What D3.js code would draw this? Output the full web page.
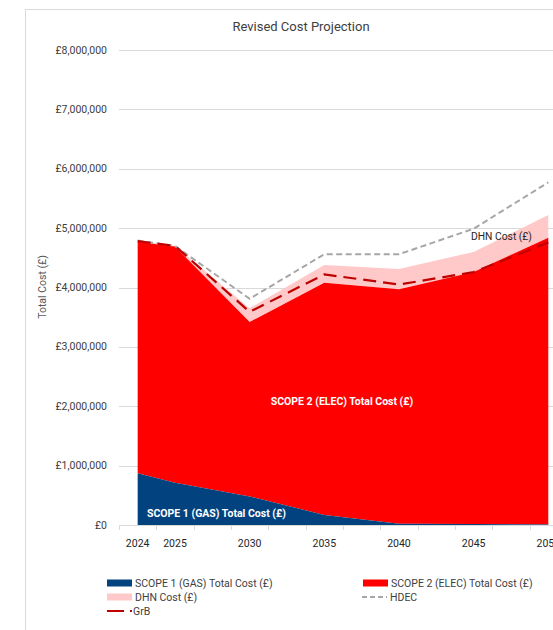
<!DOCTYPE html>
<html>
<head>
<meta charset="utf-8">
<script src="https://cdn.jsdelivr.net/npm/d3@7"></script>
<style>
  html, body { margin: 0; padding: 0; background: #ffffff; }
  svg { display: block; font-family: Roboto, "Open Sans", sans-serif; }
</style>
</head>
<body>
<svg id="chart" width="553" height="630"></svg>
<script>
// Projection years and cost series (£)
const years   = [2024, 2025, 2030, 2035, 2040, 2045, 2050];
const scope1  = [870000, 710000, 480000, 170000, 20000, 15000, 10000];
const scope2  = [3900000, 3980000, 2940000, 3910000, 3950000, 4245000, 4830000];
const dhn     = [10000, 10000, 230000, 300000, 340000, 340000, 380000];
const hdec    = [4790000, 4700000, 3810000, 4560000, 4560000, 4990000, 5770000];
const grb     = [4780000, 4700000, 3590000, 4220000, 4050000, 4260000, 4760000];

// Category slots on the horizontal axis (labelled ones only shown)
const slotLabels = ["2024", "2025", "", "2030", "", "2035", "", "2040", "", "2045", "", "2050"];
const yTicks = [0, 1000000, 2000000, 3000000, 4000000, 5000000, 6000000, 7000000, 8000000];

const svg = d3.select("#chart");

const plot = { left: 119, top: 50, bottom: 525, slot: 37.33 };

// chart frame
svg.append("rect")
  .attr("x", 25.5).attr("y", 9.5)
  .attr("width", 600).attr("height", 700)
  .attr("fill", "#ffffff").attr("stroke", "#d9d9d9");

const band = d3.scaleBand()
  .domain(d3.range(slotLabels.length))
  .range([plot.left, plot.left + plot.slot * slotLabels.length]);
const mid = i => band(i) + band.bandwidth() / 2;

// year -> position: 2024 and 2025 sit in consecutive slots, then one slot per 2.5 years
const x = d3.scaleLinear()
  .domain([2024, 2025, 2050])
  .range([mid(0), mid(1), mid(11)]);

const y = d3.scaleLinear().domain([0, 8000000]).range([plot.bottom, plot.top]);

// gridlines
svg.append("g")
  .selectAll("line")
  .data(yTicks.slice(1))
  .join("line")
  .attr("x1", plot.left).attr("x2", 553)
  .attr("y1", d => Math.round(y(d)) + 0.5).attr("y2", d => Math.round(y(d)) + 0.5)
  .attr("stroke", "#d9d9d9").attr("stroke-width", 1);

// y tick labels
svg.append("g")
  .selectAll("text")
  .data(yTicks)
  .join("text")
  .attr("x", 107)
  .attr("y", d => y(d) + 3.5)
  .attr("text-anchor", "end")
  .attr("font-size", 10.5)
  .attr("fill", "#404040")
  .text(d => "£" + d3.format(",")(d));

// y axis title
svg.append("text")
  .attr("transform", `translate(46,287) rotate(-90)`)
  .attr("text-anchor", "middle")
  .attr("font-size", 10.5)
  .attr("fill", "#595959")
  .text("Total Cost (£)");

// stacked areas
const rows = years.map((yr, i) => ({ year: yr, scope1: scope1[i], scope2: scope2[i], dhn: dhn[i] }));
const stack = d3.stack().keys(["scope1", "scope2", "dhn"]);
const layers = stack(rows);
const fills = { scope1: "#02437f", scope2: "#ff0000", dhn: "#ffc9c9" };

const area = d3.area()
  .x(d => x(d.data.year))
  .y0(d => y(d[0]))
  .y1(d => y(d[1]));

svg.append("g")
  .selectAll("path")
  .data(layers.slice().reverse())
  .join("path")
  .attr("d", area)
  .attr("fill", d => fills[d.key]);

// x axis line and tick marks
svg.append("line")
  .attr("x1", plot.left).attr("x2", 553)
  .attr("y1", plot.bottom + 0.5).attr("y2", plot.bottom + 0.5)
  .attr("stroke", "#d9d9d9");
svg.append("g")
  .selectAll("line")
  .data(d3.range(slotLabels.length + 1))
  .join("line")
  .attr("x1", i => Math.round(plot.left + i * plot.slot) + 0.5)
  .attr("x2", i => Math.round(plot.left + i * plot.slot) + 0.5)
  .attr("y1", plot.bottom).attr("y2", plot.bottom + 5)
  .attr("stroke", "#d9d9d9");

svg.append("g")
  .selectAll("text")
  .data(slotLabels.map((l, i) => ({ l, i })).filter(d => d.l))
  .join("text")
  .attr("x", d => mid(d.i))
  .attr("y", 547)
  .attr("text-anchor", "middle")
  .attr("font-size", 10.5)
  .attr("fill", "#262626")
  .text(d => d.l);

// comparison lines
const line = d3.line().x((d, i) => x(years[i])).y(d => y(d));

svg.append("path")
  .attr("d", line(hdec))
  .attr("fill", "none")
  .attr("stroke", "#a6a6a6")
  .attr("stroke-width", 2)
  .attr("stroke-dasharray", "6,3.5");

svg.append("path")
  .attr("d", line(grb))
  .attr("fill", "none")
  .attr("stroke", "#c00000")
  .attr("stroke-width", 2.2)
  .attr("stroke-dasharray", "13,7");

// area labels
svg.append("text")
  .attr("x", 147).attr("y", 517)
  .attr("font-size", 10.5).attr("font-weight", "bold")
  .attr("fill", "#ffffff")
  .text("SCOPE 1 (GAS) Total Cost (£)");

svg.append("text")
  .attr("x", 342).attr("y", 405)
  .attr("text-anchor", "middle")
  .attr("font-size", 10.5).attr("font-weight", "bold")
  .attr("fill", "#ffffff")
  .text("SCOPE 2 (ELEC) Total Cost (£)");

svg.append("text")
  .attr("x", 471).attr("y", 240)
  .attr("font-size", 10.3)
  .attr("fill", "#262626")
  .text("DHN Cost (£)");

// title
svg.append("text")
  .attr("x", 301).attr("y", 31)
  .attr("text-anchor", "middle")
  .attr("font-size", 13)
  .attr("fill", "#404040")
  .text("Revised Cost Projection");

// legend
const legend = [
  { name: "SCOPE 1 (GAS) Total Cost (£)", type: "box", color: "#02437f", x: 107, y: 583 },
  { name: "SCOPE 2 (ELEC) Total Cost (£)", type: "box", color: "#ff0000", x: 363, y: 583 },
  { name: "DHN Cost (£)", type: "box", color: "#ffc9c9", x: 107, y: 597 },
  { name: "HDEC", type: "grey", color: "#a6a6a6", x: 362, y: 597 },
  { name: "GrB", type: "red", color: "#c00000", x: 107, y: 611 }
];

const lg = svg.append("g").selectAll("g").data(legend).join("g")
  .attr("transform", d => `translate(${d.x},${d.y})`);

lg.filter(d => d.type === "box").append("rect")
  .attr("x", 0).attr("y", -3.5).attr("width", 25).attr("height", 7)
  .attr("fill", d => d.color);

lg.filter(d => d.type === "grey").append("line")
  .attr("x1", 0).attr("x2", 25).attr("y1", 0).attr("y2", 0)
  .attr("stroke", d => d.color).attr("stroke-width", 2)
  .attr("stroke-dasharray", "5,3");

lg.filter(d => d.type === "red").append("line")
  .attr("x1", 0).attr("x2", 17).attr("y1", 0).attr("y2", 0)
  .attr("stroke", d => d.color).attr("stroke-width", 2);
lg.filter(d => d.type === "red").append("line")
  .attr("x1", 23).attr("x2", 25).attr("y1", 0).attr("y2", 0)
  .attr("stroke", d => d.color).attr("stroke-width", 2);

lg.append("text")
  .attr("x", d => d.type === "red" ? 26 : 28)
  .attr("y", 4)
  .attr("font-size", 10.5)
  .attr("fill", "#404040")
  .text(d => d.name);
</script>
</body>
</html>
